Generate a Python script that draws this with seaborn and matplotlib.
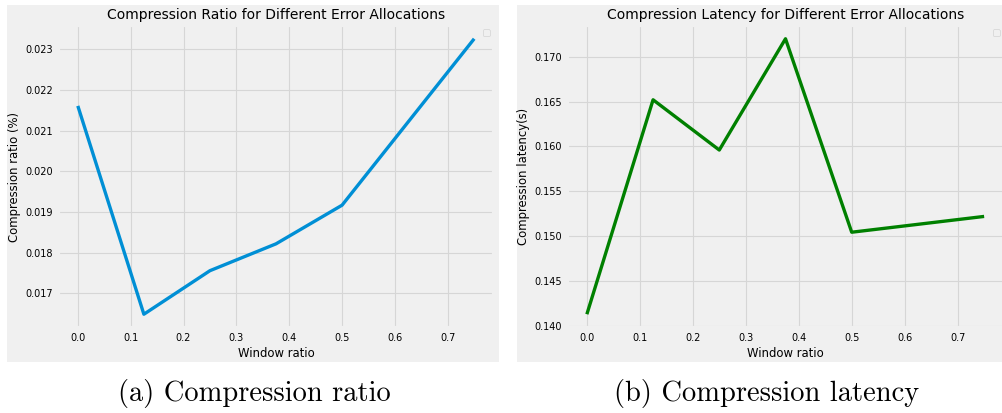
import matplotlib
matplotlib.use('Agg')
import matplotlib.pyplot as plt
import seaborn as sns
import pandas as pd
from matplotlib.patches import Rectangle

# values
window_ratio = [0.0, 0.125, 0.25, 0.375, 0.5, 0.75]
comp_ratio = [0.02161, 0.01649, 0.01756, 0.01822, 0.01917, 0.02326]
comp_latency = [0.1413, 0.1652, 0.1596, 0.1720, 0.15044, 0.1522]

df = pd.DataFrame({'window': window_ratio, 'ratio': comp_ratio, 'latency': comp_latency})

plt.style.use('fivethirtyeight')
plt.rcParams.update({
    'axes.facecolor': '#f0f0f0',
    'grid.color': '#d6d6d6',
    'grid.linewidth': 0.8,
    'xtick.labelsize': 7.0,
    'ytick.labelsize': 7.0,
    'xtick.major.pad': 3.4,
    'ytick.major.pad': 3.4,
    'axes.labelsize': 8.4,
    'axes.titlesize': 10,
    'axes.labelpad': 3,
})

W, H = 1002, 413
fig = plt.figure(figsize=(W / 100, H / 100), dpi=100, facecolor='white')

def box(x0, y0, x1, y1):
    return [x0 / W, 1 - y1 / H, (x1 - x0) / W, (y1 - y0) / H]

# gray panel behind each subplot
for x0, x1 in [(7, 499), (517, 1012)]:
    fig.add_artist(Rectangle((x0 / W, 1 - 362 / H), (x1 - x0) / W, 357 / H,
                             transform=fig.transFigure, facecolor='#f0f0f0',
                             edgecolor='none', zorder=-5))

ax1 = fig.add_axes(box(58, 25, 494, 328))
ax2 = fig.add_axes(box(567, 25, 1004, 328))

sns.lineplot(data=df, x='window', y='ratio', ax=ax1, color='#008fd5', linewidth=2.4)
ax1.set_title('Compression Ratio for Different Error Allocations', pad=4)
ax1.set_xlabel('Window ratio')
ax1.set_ylabel('Compression ratio (%)')
ax1.legend(loc='upper right', fontsize=6.3)

sns.lineplot(data=df, x='window', y='latency', ax=ax2, color='green', linewidth=2.4)
ax2.set_title('Compression Latency for Different Error Allocations', pad=4)
ax2.set_xlabel('Window ratio')
ax2.set_ylabel('Compression latency(s)')
ax2.legend(loc='upper right', fontsize=6.3)

for ax in (ax1, ax2):
    ax.set_xticks([0.0, 0.1, 0.2, 0.3, 0.4, 0.5, 0.6, 0.7])

fig.text(254 / W, 1 - 393 / H, '(a) Compression ratio', fontfamily='cmr10',
         fontsize=20.5, ha='center', va='center')
fig.text(767 / W, 1 - 393 / H, '(b) Compression latency', fontfamily='cmr10',
         fontsize=20.5, ha='center', va='center')

fig.savefig('out.png', dpi=100, facecolor='white')
